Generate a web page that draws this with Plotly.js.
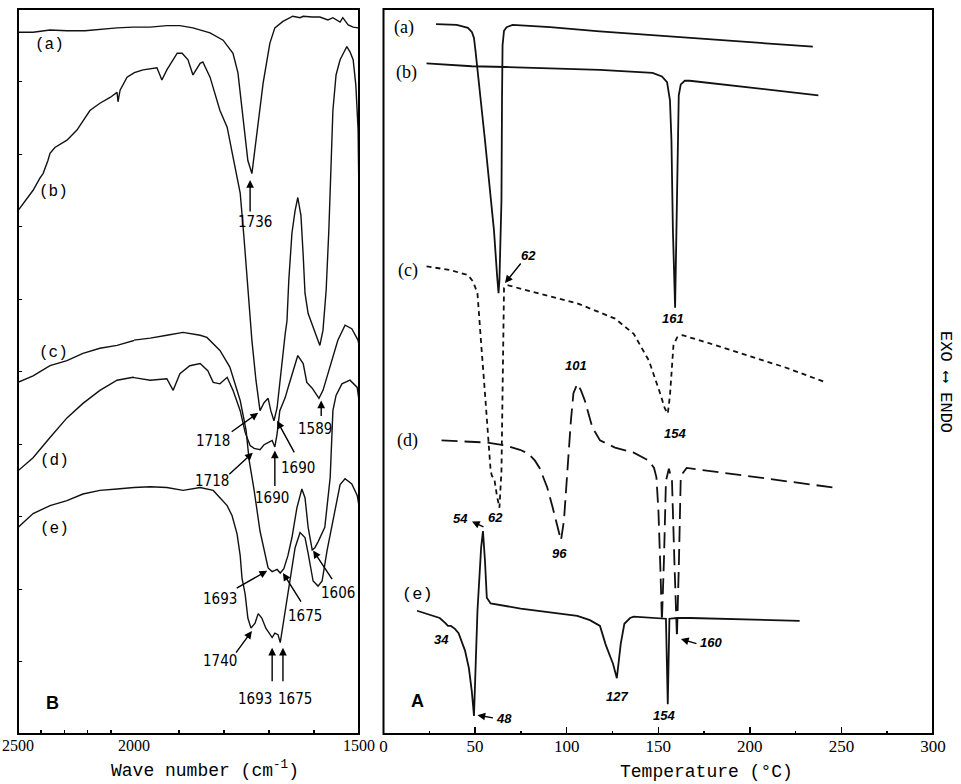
<!DOCTYPE html>
<html><head><meta charset="utf-8">
<script src="https://cdn.plot.ly/plotly-3.0.1.min.js"></script>
<style>html,body{margin:0;padding:0;background:#fff}</style>
</head><body>
<div id="chart" style="width:961px;height:784px"></div>
<script>
// ---------- IR spectra (panel B): wavenumber (cm-1) vs transmittance (arb.) ----------
const irWnA = [2500,2435,2362,2289,2211,2147,2073,2004,1964,1927,1898,1869,1831,1802,1780,1769,1758,1747,1738,1727,1713,1698,1687,1669,1653,1647,1631,1624,1604,1587,1569,1558,1542,1536,1524,1513,1502];
const irTA  = [96.8,96.8,97.1,97.0,97.0,97.2,97.4,97.5,97.5,97.7,97.7,97.4,96.7,95.7,93.9,91.2,85.1,79.1,77.3,82.9,89.8,95.3,97.4,98.3,98.8,99.0,98.8,99.0,98.9,98.9,98.5,98.8,98.2,98.8,97.8,97.5,97.4];

const irWnB = [2500,2435,2405,2392,2371,2362,2341,2289,2246,2190,2147,2103,2073,2069,2060,2030,1980,1949,1938,1927,1904,1893,1880,1869,1853,1847,1831,1809,1793,1780,1764,1756,1747,1738,1729,1720,1711,1702,1696,1689,1682,1671,1664,1660,1656,1649,1642,1636,1629,1624,1620,1613,1604,1596,1587,1580,1573,1567,1562,1558,1551,1542,1533,1527,1520,1513,1507,1502,1500];
const irTB  = [72.2,75.0,76.7,77.3,79.1,80.1,80.9,81.9,83.3,86.0,87.0,87.8,88.5,87.2,88.8,90.6,91.6,91.9,90.2,91.6,93.9,93.9,93.0,90.9,92.5,92.7,90.6,86.0,83.7,79.6,74.6,68.8,61.9,54.3,48.8,44.6,45.7,46.3,44.6,43.2,45.0,51.5,55.2,57.0,62.6,69.1,72.2,74.0,71.5,66.0,60.8,58.0,56.4,55.0,53.6,55.7,61.2,69.5,77.8,86.0,90.9,93.0,94.1,94.8,94.1,93.0,89.5,83.3,73.6];

const irWnC = [2500,2435,2362,2289,2220,2147,2073,2004,1964,1927,1891,1853,1838,1809,1787,1764,1751,1744,1733,1720,1709,1702,1693,1682,1675,1667,1658,1649,1638,1627,1620,1613,1604,1598,1591,1576,1564,1558,1551,1538,1520,1504,1500];
const irTC  = [48.5,49.4,50.8,51.5,52.5,53.2,53.6,54.3,54.6,55.0,55.4,55.0,54.7,52.9,50.6,46.0,41.9,37.7,33.6,28.0,24.6,22.9,22.4,22.7,22.2,22.8,24.6,27.1,31.2,33.8,32.6,28.5,25.4,25.7,26.5,28.5,35.4,44.6,46.7,48.3,48.8,47.8,46.0];

const irWnD = [2500,2435,2362,2289,2220,2147,2073,2004,1964,1927,1913,1898,1876,1853,1836,1824,1809,1793,1780,1764,1753,1742,1733,1720,1711,1702,1693,1687,1682,1676,1664,1656,1647,1636,1624,1616,1604,1596,1589,1580,1569,1558,1547,1531,1516,1502,1500];
const irTD  = [36.3,38.1,40.9,43.6,45.6,47.4,48.8,49.2,48.8,49.0,47.4,49.7,50.8,51.1,50.1,48.5,48.3,49.2,47.4,44.6,41.6,39.8,39.4,39.2,39.9,40.2,40.5,39.6,41.4,44.6,46.4,48.1,50.1,52.2,51.1,48.5,47.7,47.0,46.3,47.4,49.7,51.9,54.3,56.4,55.9,54.3,53.6];

const irWnE = [2500,2435,2362,2289,2220,2147,2073,2004,1964,1927,1891,1853,1824,1809,1793,1782,1771,1764,1760,1753,1747,1740,1731,1724,1716,1707,1693,1687,1680,1675,1664,1653,1642,1631,1620,1613,1602,1591,1582,1571,1558,1549,1542,1531,1516,1504,1500];
const irTE  = [28.5,30.4,31.5,32.2,33.1,33.6,33.8,34.0,34.1,34.0,33.6,34.0,33.6,32.6,31.5,30.1,27.6,24.6,21.5,19.3,16.0,14.6,15.3,16.6,16.0,14.6,13.3,13.9,13.7,12.6,17.0,21.5,25.7,27.8,27.1,24.9,21.1,20.4,21.1,25.3,29.4,32.2,34.4,35.2,34.5,32.9,31.5];

// IR peak labels: text, arrow tip wavenumber, arrow tip transmittance
const irPeakText = ['1736','1718','1690','1589','1718','1690','1693','1675','1606','1740','1693','1675'];
const irPeakWn   = [1742,1724,1682,1584,1736,1687,1704,1669,1602,1738,1693,1669];
const irPeakT    = [76.4,44.3,43.2,46.0,38.8,39.1,22.5,22.2,25.3,14.2,11.9,11.9];

// IR axis ticks
const irTicksHi = [2500,2000];          const irTickTextHi = ['2500','2000'];
const irMinorHi = [2400,2300,2200,2100];
const irTicksLo = [1500];               const irTickTextLo = ['1500'];
const irMinorLo = [1900,1800,1700,1600];

// ---------- DSC thermograms (panel A): temperature (°C) vs heat flow (arb.) ----------
const dscTA = [28.7,40.0,46.1,48.3,49.4,50.2,55.4,60.3,62.0,62.8,63.3,64.4,64.7,65.0,65.8,67.2,70.5,91.0,118.0,145.4,172.7,200.0,234.4];
const dscHA = [97.9,97.8,97.4,96.8,96.0,94.3,81.9,69.5,63.3,60.8,62.6,73.6,87.4,95.0,97.0,97.5,97.8,97.5,96.9,96.4,95.9,95.4,94.8];

const dscTB = [23.5,48.2,66.7,118.2,146.9,152.0,154.8,156.4,157.2,158.0,159.2,159.9,160.7,161.2,162.3,164.5,167.2,237.4];
const dscHB = [92.5,92.1,92.0,91.6,91.2,90.7,89.9,87.4,81.9,69.5,58.8,69.5,83.3,88.1,89.6,90.1,90.1,88.1];

const dscTC = [23.5,36.3,46.1,48.9,51.3,52.1,53.3,55.4,57.4,58.5,59.2,60.5,61.9,63.3,64.4,65.0,65.4,65.8,67.7,85.2,105.8,126.4,136.6,144.9,148.7,151.0,153.6,155.2,156.4,157.2,158.3,160.3,163.4,177.7,198.4,218.9,241.5];
const dscHC = [64.5,64.0,63.3,62.4,60.8,58.4,53.9,47.0,39.5,36.3,35.6,35.2,32.9,31.2,36.3,46.0,57.0,61.5,61.9,60.8,59.4,57.3,55.2,51.5,48.8,47.0,44.9,44.2,46.7,50.1,53.6,54.7,55.0,53.9,52.2,50.6,48.5];

const dscTD = [31.7,56.4,66.7,74.5,79.0,82.7,85.2,89.4,92.4,94.7,96.9,98.5,100.7,102.3,103.7,105.8,107.8,109.9,114.0,118.2,126.4,136.6,144.9,147.7,149.0,150.1,151.2,152.0,153.1,154.2,155.8,157.5,158.8,160.2,161.3,162.3,165.5,245.7];
const dscHD = [40.5,40.2,39.8,39.2,38.7,37.7,36.7,34.0,31.2,28.7,26.7,29.4,37.7,43.2,47.0,48.3,47.4,46.0,42.3,40.5,39.5,38.8,37.7,36.7,35.4,30.8,22.5,15.6,23.9,34.9,36.6,34.9,23.9,13.3,23.9,35.6,36.7,34.0];

const dscTE = [18.3,30.7,33.8,35.2,36.8,39.0,41.0,42.8,44.5,46.6,48.2,49.4,51.3,53.3,54.3,55.4,56.4,58.5,74.9,105.8,112.7,118.2,121.2,123.6,125.3,127.4,129.5,131.5,134.6,136.6,151.0,154.2,155.2,156.1,160.3,167.5,227.2];
const dscHE = [17.0,16.0,15.3,14.9,14.9,14.5,13.9,12.8,11.5,9.1,5.9,2.5,17.0,25.7,28.0,23.9,18.8,18.0,17.3,16.3,15.7,14.9,12.4,10.8,9.7,7.7,12.4,15.2,16.0,16.2,16.0,15.9,4.1,15.9,16.0,16.0,15.6];

// DSC labels: text, position (°C, heat flow)
const dscLabelText = ['62','161','154','101','96','54','62','34','48','127','154','160'];
const dscLabelT    = [78.9,158.0,159.1,105.3,96.3,42.0,61.4,31.7,65.8,127.5,153.1,178.7];
const dscLabelH    = [66.0,57.3,41.4,50.8,24.9,29.7,29.8,13.1,2.1,5.2,2.5,12.6];
// DSC arrows: tip (°C, heat flow)
const dscArrowT = [66.3,48.3,51.3,162.4];
const dscArrowH = [62.2,29.3,2.6,13.1];

const dscTicks = [0,50,100,150,200,250,300];
const dscTickText = ['0','50','100','150','200','250','300'];
const dscMinor = [25,75,125,175,225,275];

// ---------- layout geometry (pixels) ----------
const W = 961, H = 784;
const fx = p => p / W, fy = p => 1 - p / H;
const Lx0 = 18, Lxm = 134, Lx1 = 359, Rx0 = 383.5, Rx1 = 933, Y0 = 9, Y1 = 734;

function splitAt(wn, t, cut) {
  const hi = {x: [], y: []}, lo = {x: [], y: []};
  for (let i = 0; i < wn.length; i++) {
    if (wn[i] >= cut) { hi.x.push(wn[i]); hi.y.push(t[i]); }
    if (wn[i] <= cut) { lo.x.push(wn[i]); lo.y.push(t[i]); }
  }
  const k = wn.findIndex(v => v < cut);
  if (k > 0) {
    hi.x.push(wn[k]); hi.y.push(t[k]);
    lo.x.unshift(wn[k - 1]); lo.y.unshift(t[k - 1]);
  }
  return [hi, lo];
}

const traces = [];
const irSets = [[irWnA, irTA, 'a'], [irWnB, irTB, 'b'], [irWnC, irTC, 'c'], [irWnD, irTD, 'd'], [irWnE, irTE, 'e']];
irSets.forEach(([wn, t, nm]) => {
  const [hi, lo] = splitAt(wn, t, 2000);
  const line = {color: '#111', width: 1.4};
  traces.push({x: hi.x, y: hi.y, xaxis: 'x', yaxis: 'y', mode: 'lines', line, name: nm, showlegend: false});
  traces.push({x: lo.x, y: lo.y, xaxis: 'x2', yaxis: 'y', mode: 'lines', line, name: nm, showlegend: false});
});

const dscSets = [
  [dscTA, dscHA, 'solid'], [dscTB, dscHB, 'solid'], [dscTC, dscHC, '5px,4px'],
  [dscTD, dscHD, '16px,7px'], [dscTE, dscHE, 'solid']
];
dscSets.forEach(([t, h, dash]) => {
  traces.push({x: t, y: h, xaxis: 'x3', yaxis: 'y3', mode: 'lines',
    line: {color: '#111', width: 1.8, dash}, showlegend: false});
});

// ---------- annotations ----------
const ann = [];
const peakFont = {family: 'Liberation Sans Narrow, DejaVu Sans Condensed, Arial Narrow, sans-serif', size: 15, color: '#000'};
// offsets (px) of arrow tail and text centre relative to arrow tip
const irTail = [[0,33],[-28,20],[18,33],[0,17],[-25,23],[0,37],[-32,18],[19,30],[20,30],[-17,23],[0,35],[0,35]];
const irTextOff = [[5,42],[-45,28],[21,47],[-6,28],[-41,28],[-3,47],[-47,28],[22,43],[25,42],[-32,30],[-17,51],[12,51]];
irPeakText.forEach((txt, i) => {
  ann.push({xref: 'x2', yref: 'y', x: irPeakWn[i], y: irPeakT[i], text: '', showarrow: true,
    ax: irTail[i][0], ay: irTail[i][1], arrowhead: 2, arrowsize: 1.1, arrowwidth: 1.4, arrowcolor: '#000', standoff: 0, startstandoff: 0});
  ann.push({xref: 'x2', yref: 'y', x: irPeakWn[i], y: irPeakT[i], text: txt, showarrow: false,
    xanchor: 'center', yanchor: 'middle', xshift: irTextOff[i][0], yshift: -irTextOff[i][1], font: peakFont});
});

const monoFont = {family: 'Liberation Mono, DejaVu Sans Mono, monospace', size: 16, color: '#000'};
const serifFont = {family: 'Liberation Serif, DejaVu Serif, serif', size: 18, color: '#000'};
// IR curve labels (x on left axis)
[['(a)', 2366, 95.0], ['(b)', 2349, 74.7], ['(c)', 2349, 52.5], ['(d)', 2341, 37.7], ['(e)', 2341, 28.3]].forEach(([t, x, y]) => {
  ann.push({xref: 'x', yref: 'y', x, y, text: t, showarrow: false, xanchor: 'center', font: monoFont});
});
ann.push({xref: 'x', yref: 'y', x: 2353, y: 4.3, text: '<b>B</b>', showarrow: false, xanchor: 'center',
  font: {family: 'Liberation Sans, Arial, sans-serif', size: 18, color: '#000'}});

// DSC curve labels
[['(a)', 11.2, 97.4], ['(b)', 12.3, 91.3], ['(c)', 13.2, 64.0], ['(d)', 13.2, 40.5]].forEach(([t, x, y]) => {
  ann.push({xref: 'x3', yref: 'y3', x, y, text: t, showarrow: false, xanchor: 'center', font: serifFont});
});
ann.push({xref: 'x3', yref: 'y3', x: 18.3, y: 19.3, text: '(e)', showarrow: false, xanchor: 'center', font: {...monoFont, size: 17}});
ann.push({xref: 'x3', yref: 'y3', x: 18.3, y: 4.6, text: '<b>A</b>', showarrow: false, xanchor: 'center',
  font: {family: 'Liberation Sans, Arial, sans-serif', size: 18, color: '#000'}});

const dscFont = {family: 'Liberation Sans, Arial, sans-serif', size: 13, color: '#000', style: 'italic', weight: 600};
dscLabelText.forEach((t, i) => {
  ann.push({xref: 'x3', yref: 'y3', x: dscLabelT[i], y: dscLabelH[i], text: t, showarrow: false, xanchor: 'center', font: dscFont});
});
const dscTail = [[17,-21],[13,6],[17,3],[17,5]];
dscArrowT.forEach((t, i) => {
  ann.push({xref: 'x3', yref: 'y3', x: t, y: dscArrowH[i], text: '', showarrow: true,
    ax: dscTail[i][0], ay: dscTail[i][1], arrowhead: 2, arrowsize: 1.1, arrowwidth: 1.4, arrowcolor: '#000', standoff: 0, startstandoff: 0});
});

// axis titles and side label
const titleFont = {family: 'Liberation Mono, DejaVu Sans Mono, monospace', size: 18, color: '#000'};
ann.push({xref: 'paper', yref: 'paper', x: fx(205), y: fy(783), xanchor: 'center', yanchor: 'bottom',
  text: 'Wave number (cm<sup>-1</sup>)', showarrow: false, font: titleFont});
ann.push({xref: 'paper', yref: 'paper', x: fx(706), y: fy(784), xanchor: 'center', yanchor: 'bottom',
  text: 'Temperature (°C)', showarrow: false, font: titleFont});
ann.push({xref: 'paper', yref: 'paper', x: fx(946), y: fy(382), xanchor: 'center', yanchor: 'middle',
  text: 'EXO ⟷ ENDO', textangle: 90, showarrow: false,
  font: {family: 'Liberation Mono, DejaVu Sans Mono, monospace', size: 17, color: '#000'}});

const tickFontL = {family: 'Liberation Serif', size: 16, color: '#000'};
const tickFontR = {family: 'Liberation Serif', size: 17, color: '#000'};
const axBase = {showgrid: false, zeroline: false, showline: false, ticks: 'inside', tickcolor: '#000', fixedrange: true};

const layout = {
  width: W, height: H, autosize: false,
  font: {family: 'Liberation Serif, serif', color: '#000', size: 16},
  margin: {l: 0, r: 0, t: 0, b: 0, pad: 0},
  paper_bgcolor: '#fff', plot_bgcolor: '#fff', showlegend: false,
  xaxis: {...axBase, domain: [fx(Lx0), fx(Lxm)], range: [2500, 2000], anchor: 'y',
    tickmode: 'array', tickvals: irTicksHi, ticktext: irTickTextHi, ticklen: 11, tickwidth: 1.5, tickfont: tickFontL,
    minor: {tickmode: 'array', tickvals: irMinorHi, ticks: 'inside', ticklen: 4, tickcolor: '#000', showgrid: false}},
  xaxis2: {...axBase, domain: [fx(Lxm), fx(Lx1)], range: [2000, 1500], anchor: 'y',
    tickmode: 'array', tickvals: irTicksLo, ticktext: irTickTextLo, ticklen: 11, tickwidth: 1.5, tickfont: tickFontL,
    minor: {tickmode: 'array', tickvals: irMinorLo, ticks: 'inside', ticklen: 4, tickcolor: '#000', showgrid: false}},
  yaxis: {...axBase, domain: [fy(Y1), fy(Y0)], range: [0, 100], anchor: 'x',
    tickmode: 'array', tickvals: [10,20,30,40,50,60,70,80,90], ticklen: 4, showticklabels: false},
  xaxis3: {...axBase, domain: [fx(Rx0), fx(Rx1)], range: [0, 300], anchor: 'y3',
    tickmode: 'array', tickvals: dscTicks, ticktext: dscTickText, ticklen: 7, tickwidth: 1.5, tickfont: tickFontR,
    minor: {tickmode: 'array', tickvals: dscMinor, ticks: 'inside', ticklen: 3, tickcolor: '#000', showgrid: false}},
  yaxis3: {...axBase, domain: [fy(Y1), fy(Y0)], range: [0, 100], anchor: 'x3', ticks: '', showticklabels: false},
  shapes: [
    {type: 'rect', xref: 'paper', yref: 'paper', x0: fx(Lx0), x1: fx(Lx1), y0: fy(Y1), y1: fy(Y0), line: {color: '#000', width: 2}},
    {type: 'rect', xref: 'paper', yref: 'paper', x0: fx(Rx0), x1: fx(Rx1), y0: fy(Y1), y1: fy(Y0), line: {color: '#000', width: 2}}
  ],
  annotations: ann
};

Plotly.newPlot('chart', traces, layout, {staticPlot: true, displayModeBar: false});
</script>
</body></html>
